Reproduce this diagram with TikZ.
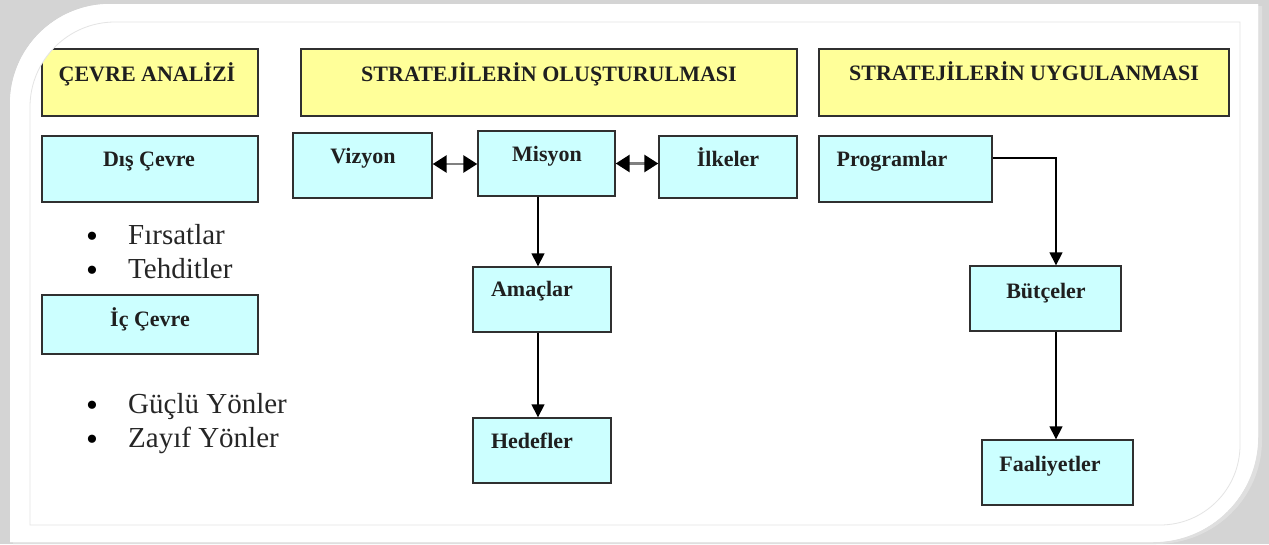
\documentclass[tikz,border=0pt]{standalone}
\usepackage{fontspec}
\setmainfont{Liberation Serif}
\usetikzlibrary{arrows.meta}
\definecolor{boxyel}{HTML}{FFFF99}
\definecolor{boxcyan}{HTML}{CCFFFF}
\definecolor{edgec}{HTML}{303030}
\definecolor{bggray}{HTML}{D4D4D4}
\definecolor{innerline}{HTML}{E4E4E4}
\newcommand{\mybox}[6]{\node[#1, minimum width={#5-#3}, minimum height={#6-#4}] (#2) at ({(#3+#5)/2},{(#4+#6)/2}) {};}
\begin{document}
\begin{tikzpicture}[x=1pt,y=-1pt,
  ybox/.style={draw=edgec, line width=1.4pt, fill=boxyel, inner sep=0pt},
  cbox/.style={draw=edgec, line width=1.4pt, fill=boxcyan, inner sep=0pt},
  lbl/.style={font=\fontsize{22}{24}\selectfont\bfseries, anchor=base, inner sep=0pt, text=black!88},
  btxt/.style={font=\fontsize{29}{32}\selectfont, anchor=base west, inner sep=0pt, text=black!85},
  bul/.style={font=\fontsize{34}{36}\selectfont, anchor=base, inner sep=0pt},
  arr/.style={line width=1.5pt, -{Triangle[length=13pt,width=13pt]}},
  darr/.style={line width=2.8pt, draw=gray, {Triangle[length=14pt,width=17pt,color=black]}-{Triangle[length=14pt,width=17pt,color=black]}},
  frameline/.style={draw=innerline, line width=0.8pt}
]
\useasboundingbox (0,0) rectangle (1269,544);
% background and frame
\fill[bggray] (0,0) rectangle (1269,544);
\fill[gray!25] (13,544) -- (13,109) .. controls (13,51) and (58,6) .. (116,6) -- (1262,6) -- (1262,440) .. controls (1262,498) and (1214,544) .. (1156,544) -- cycle;
\fill[white] (10,542) -- (10,104) .. controls (10,48.8) and (54.8,4) .. (110,4) -- (1258,4) -- (1258,437) .. controls (1258,495) and (1211,542) .. (1153,542) -- cycle;

% header boxes
\mybox{ybox}{hca}{42}{49}{258}{116}
\mybox{ybox}{hso}{301}{49}{797}{116}
\mybox{ybox}{hsu}{819}{49}{1229}{116}
\node[lbl] (tca) at (147,81) {ÇEVRE ANALİZİ};
\node[lbl] (tso) at (549,81) {STRATEJİLERİN OLUŞTURULMASI};
\node[lbl] (tsu) at (1024,80) {STRATEJİLERİN UYGULANMASI};

% left column
\mybox{cbox}{dis}{42}{136}{258}{202}
\node[lbl] (tdis) at (149,166) {Dış Çevre};
\node[bul] (bu1) at (92,247) {•};
\node[btxt] (li1) at (128,244) {Fırsatlar};
\node[bul] (bu2) at (92,281) {•};
\node[btxt] (li2) at (128,278) {Tehditler};
\mybox{cbox}{ic}{42}{295}{258}{354}
\node[lbl] (tic) at (150,326) {İç Çevre};
\node[bul] (bu3) at (92,416) {•};
\node[btxt] (li3) at (128,413) {Güçlü Yönler};
\node[bul] (bu4) at (92,450) {•};
\node[btxt] (li4) at (128,447) {Zayıf Yönler};

% middle column
\mybox{cbox}{viz}{293}{133}{432}{198}
\node[lbl] (tviz) at (363,163) {Vizyon};
\mybox{cbox}{mis}{478}{131}{615}{196}
\node[lbl] (tmis) at (547,161) {Misyon};
\mybox{cbox}{ilk}{659}{136}{797}{198}
\node[lbl] (tilk) at (728,166) {İlkeler};
\mybox{cbox}{ama}{473}{267}{611}{332}
\node[lbl] (tama) at (532,296) {Amaçlar};
\mybox{cbox}{hed}{473}{418}{611}{483}
\node[lbl] (thed) at (532,448) {Hedefler};

% right column
\mybox{cbox}{pro}{819}{136}{992}{202}
\node[lbl] (tpro) at (892,166) {Programlar};
\mybox{cbox}{but}{970}{266}{1121}{331}
\node[lbl] (tbut) at (1046,298) {Bütçeler};
\mybox{cbox}{faa}{982}{440}{1133}{505}
\node[lbl] (tfaa) at (1050,471) {Faaliyetler};

% connectors
\draw[darr] ([yshift=1.5pt]viz.east) -- ([yshift=1.5pt]viz.east -| mis.west);
\draw[darr] (mis.east) -- (mis.east -| ilk.west);
\coordinate (a1) at ([xshift=-4pt]ama.north);
\draw[arr] (mis.south -| a1) -- (a1);
\coordinate (h1) at ([xshift=-4pt]hed.north);
\draw[arr] (ama.south -| h1) -- (h1);
\coordinate (b1) at ([xshift=10.5pt]but.north);
\draw[arr] ([yshift=11pt]pro.east) -| (b1);
\coordinate (f1) at ([xshift=-1.5pt]faa.north);
\draw[arr] (but.south -| f1) -- (f1);

% frame overlay (white ring between outer and inner outline)
\fill[white, even odd rule]
  (10,542) -- (10,104) .. controls (10,48.8) and (54.8,4) .. (110,4) -- (1258,4) -- (1258,437) .. controls (1258,495) and (1211,542) .. (1153,542) -- cycle
  (30,525) -- (30,107) .. controls (30,60.1) and (68.1,22) .. (115,22) -- (1240,22) -- (1240,445) .. controls (1240,489.2) and (1204.2,525) .. (1160,525) -- cycle;
\draw[frameline] (30,525) -- (30,107) .. controls (30,60.1) and (68.1,22) .. (115,22) -- (1240,22) -- (1240,445) .. controls (1240,489.2) and (1204.2,525) .. (1160,525) -- cycle;
\end{tikzpicture}
\end{document}
